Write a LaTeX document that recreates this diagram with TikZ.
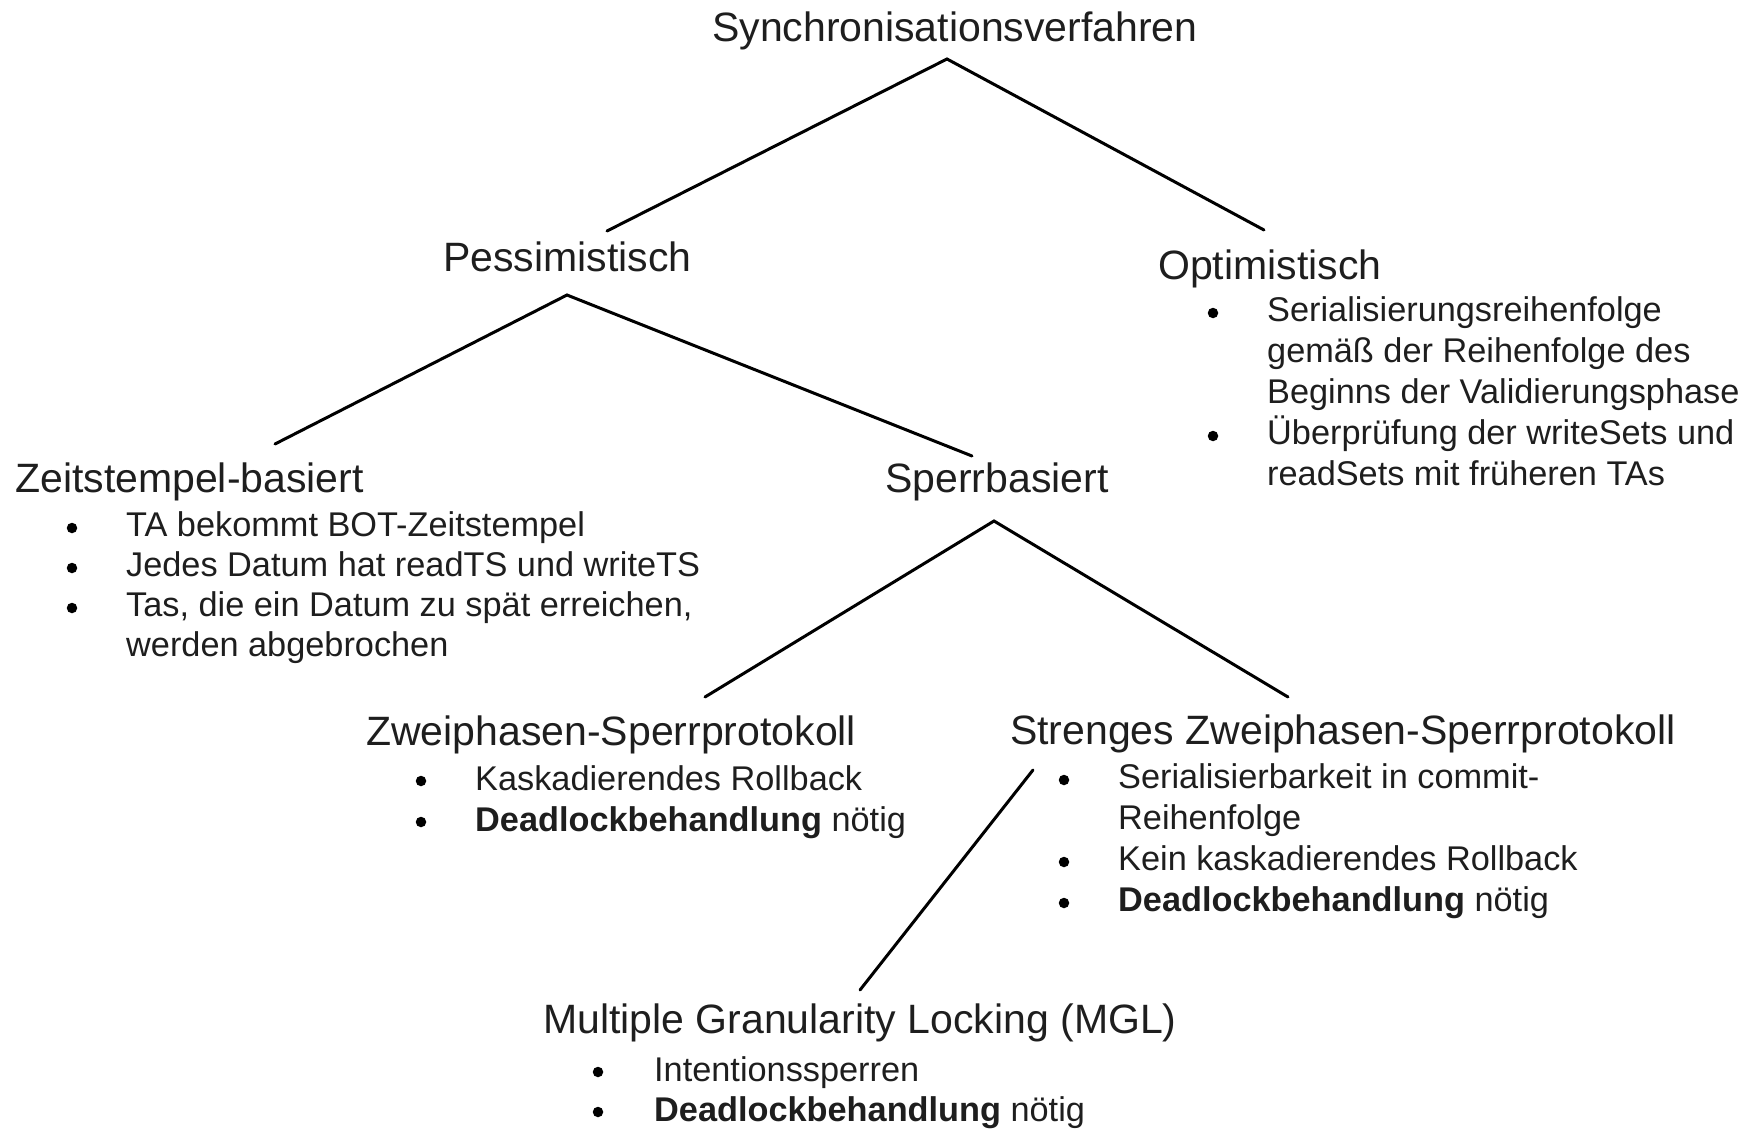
\documentclass[tikz,border=0pt]{standalone}
\usepackage{fontspec}
\setmainfont{Liberation Sans}
\definecolor{txt}{HTML}{1E1E1E}
\begin{document}
\begin{tikzpicture}[x=1pt,y=-1pt,
  head/.style={anchor=base west,inner sep=0pt,text=txt,font=\fontsize{41}{48}\selectfont},
  item/.style={anchor=base west,inner sep=0pt,text=txt,font=\fontsize{34.3}{40}\selectfont},
  dot/.style={circle,fill=black,inner sep=0pt,minimum size=10.5pt},
  edge/.style={line width=3pt,line cap=round}]
\useasboundingbox (0,0) rectangle (1746,1129);

% headings
\node[head] (syn) at (712,42) {Synchronisationsverfahren};
\node[head] (pes) at (443,271) {Pessimistisch};
\node[head] (opt) at (1158,279) {Optimistisch};
\node[head] (zeit) at (15,492) {Zeitstempel-basiert};
\node[head] (sperr) at (885,492) {Sperrbasiert};
\node[head] (zwei) at (366,745) {Zweiphasen-Sperrprotokoll};
\node[head] (streng) at (1010,744) {Strenges Zweiphasen-Sperrprotokoll};
\node[head] (mgl) at (543,1033) {Multiple Granularity Locking (MGL)};

% connector end points
\coordinate (synA) at (947,59);
\coordinate (pesT) at (607,231);
\coordinate (optT) at (1264,230);
\coordinate (pesA) at (567,295);
\coordinate (zeitT) at (275,444);
\coordinate (sperrT) at (972,456);
\coordinate (sperrA) at (994,521);
\coordinate (zweiT) at (705,697);
\coordinate (strengT) at (1288,697);
\coordinate (strengB) at (1033,770);
\coordinate (mglT) at (860,990);

\draw[edge] (pesT) -- (synA) -- (optT);
\draw[edge] (zeitT) -- (pesA) -- (sperrT);
\draw[edge] (zweiT) -- (sperrA) -- (strengT);
\draw[edge] (strengB) -- (mglT);

% Zeitstempel items
\node[dot] (zb1) at (72,528) {};
\node[item] (zt1) at (126,536) {TA bekommt BOT-Zeitstempel};
\node[dot] (zb2) at (72,568) {};
\node[item] (zt2) at (126,576) {Jedes Datum hat readTS und writeTS};
\node[dot] (zb3) at (72,608) {};
\node[item] (zt3) at (126,616) {Tas, die ein Datum zu spät erreichen,};
\node[item] (zt4) at (126,656) {werden abgebrochen};

% Optimistisch items
\node[dot] (ob1) at (1213,313) {};
\node[item] (ot1) at (1267,321) {Serialisierungsreihenfolge};
\node[item] (ot2) at (1267,362) {gemäß der Reihenfolge des};
\node[item] (ot3) at (1267,403) {Beginns der Validierungsphase};
\node[dot] (ob2) at (1213,436) {};
\node[item] (ot4) at (1267,444) {Überprüfung der writeSets und};
\node[item] (ot5) at (1267,485) {readSets mit früheren TAs};

% Zweiphasen items
\node[dot] (wb1) at (421,781) {};
\node[item] (wt1) at (475,790) {Kaskadierendes Rollback};
\node[dot] (wb2) at (421,822) {};
\node[item] (wt2) at (475,831) {\textbf{Deadlockbehandlung} nötig};

% Strenges items
\node[dot] (sb1) at (1064,780) {};
\node[item] (st1) at (1118,788) {Serialisierbarkeit in commit-};
\node[item] (st2) at (1118,829) {Reihenfolge};
\node[dot] (sb2) at (1064,862) {};
\node[item] (st3) at (1118,870) {Kein kaskadierendes Rollback};
\node[dot] (sb3) at (1064,903) {};
\node[item] (st4) at (1118,911) {\textbf{Deadlockbehandlung} nötig};

% MGL items
\node[dot] (mb1) at (598,1072) {};
\node[item] (mt1) at (654,1081) {Intentionssperren};
\node[dot] (mb2) at (598,1112) {};
\node[item] (mt2) at (654,1121) {\textbf{Deadlockbehandlung} nötig};
\end{tikzpicture}
\end{document}
